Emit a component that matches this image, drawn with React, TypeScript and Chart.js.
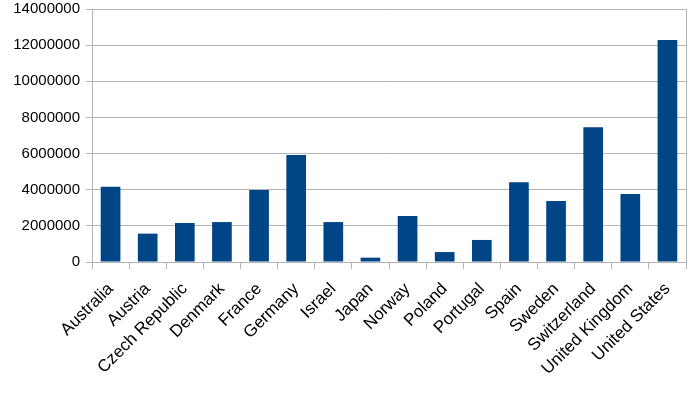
import React, { useEffect, useRef } from "react";
import { Chart, registerables } from "chart.js";

Chart.register(...registerables);

const categories = [
  "Australia", "Austria", "Czech Republic", "Denmark", "France", "Germany",
  "Israel", "Japan", "Norway", "Poland", "Portugal", "Spain", "Sweden",
  "Switzerland", "United Kingdom", "United States",
];
const values = [
  4170000, 1570000, 2160000, 2210000, 3980000, 5920000,
  2210000, 240000, 2550000, 550000, 1220000, 4410000, 3380000,
  7450000, 3760000, 12280000,
];
const yMin = 0;
const yMax = 14000000;
const yStep = 2000000;

const borderPlugin = {
  id: "rightBorder",
  afterDraw(chart: any) {
    const { ctx, chartArea } = chart;
    ctx.save();
    ctx.strokeStyle = "#b3b3b3";
    ctx.lineWidth = 1;
    ctx.beginPath();
    ctx.moveTo(Math.round(chartArea.right) + 0.5, chartArea.top);
    ctx.lineTo(Math.round(chartArea.right) + 0.5, chartArea.bottom);
    ctx.stroke();
    ctx.restore();
  },
};

export default function App() {
  const ref = useRef<HTMLCanvasElement>(null);
  useEffect(() => {
    document.body.style.margin = "0";
    const chart = new Chart(ref.current!, {
      type: "bar",
      data: {
        labels: categories,
        datasets: [
          {
            data: values,
            backgroundColor: "#004586",
            barPercentage: 0.53,
            categoryPercentage: 1,
          },
        ],
      },
      options: {
        animation: false,
        responsive: false,
        maintainAspectRatio: false,
        layout: { padding: { top: 0, right: 14, left: 0, bottom: 0 } },
        plugins: { legend: { display: false }, tooltip: { enabled: false } },
        scales: {
          x: {
            grid: {
              offset: true,
              drawOnChartArea: false,
              color: "#b3b3b3",
              tickLength: 7,
            },
            border: { color: "#b3b3b3" },
            ticks: {
              minRotation: 45,
              maxRotation: 45,
              color: "#000000",
              font: { family: "Liberation Sans", size: 17 },
              padding: 10,
              autoSkip: false,
            },
            afterFit(scale: any) {
              scale.height = 132;
            },
          },
          y: {
            min: yMin,
            max: yMax,
            grid: { color: "#b3b3b3", tickLength: 6 },
            border: { color: "#b3b3b3" },
            ticks: {
              stepSize: yStep,
              color: "#000000",
              font: { family: "Liberation Sans", size: 15 },
              padding: 6,
              callback: (v: any) => String(v),
            },
            afterFit(scale: any) {
              scale.width = 92;
            },
          },
        },
      },
      plugins: [borderPlugin],
    });
    return () => chart.destroy();
  }, []);
  return (
    <div style={{ width: 700, height: 394, overflow: "hidden", position: "relative" }}>
      <canvas
        ref={ref}
        width={700}
        height={400}
        style={{ position: "absolute", left: 0, top: -6 }}
      />
    </div>
  );
}
